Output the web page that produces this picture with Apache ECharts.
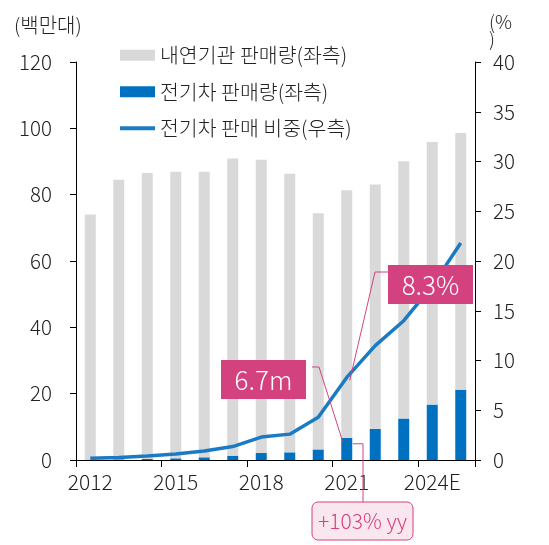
<!DOCTYPE html>
<html>
<head>
<meta charset="utf-8">
<script src="https://cdn.jsdelivr.net/npm/echarts@6/dist/echarts.min.js"></script>
<style>
html,body{margin:0;padding:0;background:#fff;}
#c{width:549px;height:545px;}
</style>
</head>
<body>
<div id="c"></div>
<script>
// ---- data ----
var categories = ['2012','2013','2014','2015','2016','2017','2018','2019','2020','2021','2022','2023','2024E','2025E'];
var iceSales = [73.9, 84.3, 86.2, 86.4, 86.1, 89.6, 88.4, 84.0, 71.2, 74.6, 73.7, 77.6, 79.2, 77.4];
var evSales = [0.1, 0.2, 0.3, 0.5, 0.8, 1.3, 2.1, 2.3, 3.2, 6.7, 9.4, 12.5, 16.7, 21.2];
var evShare = [0.17, 0.25, 0.4, 0.6, 0.9, 1.35, 2.3, 2.6, 4.3, 8.3, 11.5, 14.0, 17.5, 21.8];
var leftTicks = {min: 0, max: 120, interval: 20};
var rightTicks = {min: 0, max: 40, interval: 5};
var seriesNames = ['내연기관 판매량(좌측)', '전기차 판매량(좌측)', '전기차 판매 비중(우측)'];
var leftUnit = '(백만대)';
var rightUnit = '(%\n)';
var noteShare = '8.3%';
var noteSales = '6.7m';
var noteGrowth = '+103% yy';
var noteIndex = 9; // 2021

var FONT = '"Noto Sans CJK KR", "Noto Sans", sans-serif';
var FW = 300;
var PINK = '#d4417f';
var LINEC = '#1a7bc4';
var chart = echarts.init(document.getElementById('c'), null, {renderer: 'canvas'});

var option = {
  animation: false,
  textStyle: {fontFamily: FONT, fontWeight: FW},
  grid: {left: 76, right: 74, top: 62, bottom: 85, containLabel: false},
  legend: {
    orient: 'vertical', left: 118, top: 45, padding: 0,
    itemWidth: 35, itemHeight: 11, itemGap: 16,
    data: [
      {name: seriesNames[0], icon: 'rect'},
      {name: seriesNames[1], icon: 'rect'},
      {name: seriesNames[2], itemStyle: {color: 'rgba(0,0,0,0)', borderWidth: 0}, lineStyle: {width: 4, color: LINEC}}
    ],
    textStyle: {fontSize: 20.5, color: '#222', fontFamily: FONT, fontWeight: FW}
  },
  xAxis: {
    type: 'category', data: categories, boundaryGap: true,
    axisLine: {lineStyle: {color: '#000', width: 1}},
    axisTick: {show: true, interval: 2, length: 7, lineStyle: {color: '#000'}},
    axisLabel: {interval: 2, margin: 12, fontSize: 21, color: '#222', fontFamily: FONT, fontWeight: FW}
  },
  yAxis: [{
    type: 'value', min: leftTicks.min, max: leftTicks.max, interval: leftTicks.interval,
    axisLine: {show: true, lineStyle: {color: '#000'}},
    axisTick: {show: true, length: 6, lineStyle: {color: '#000'}},
    splitLine: {show: false},
    axisLabel: {margin: 24, fontSize: 20.5, color: '#222', fontFamily: FONT, fontWeight: FW}
  }, {
    type: 'value', position: 'right', min: rightTicks.min, max: rightTicks.max, interval: rightTicks.interval,
    axisLine: {show: true, lineStyle: {color: '#000'}},
    axisTick: {show: true, length: 6, lineStyle: {color: '#000'}},
    splitLine: {show: false},
    axisLabel: {margin: 18, fontSize: 20.5, color: '#222', fontFamily: FONT, fontWeight: FW}
  }],
  series: [{
    name: seriesNames[1], type: 'bar', stack: 'total', data: evSales,
    barWidth: 11, itemStyle: {color: '#0070c0'}, z: 2
  }, {
    name: seriesNames[0], type: 'bar', stack: 'total', data: iceSales,
    barWidth: 11, itemStyle: {color: '#d9d9d9'}, z: 2
  }, {
    name: seriesNames[2], type: 'line', yAxisIndex: 1, data: evShare,
    symbol: 'none', lineStyle: {color: LINEC, width: 3.5}, itemStyle: {color: LINEC}, z: 3
  }],
  graphic: [{
    type: 'text', left: 14, top: 15,
    style: {text: leftUnit, fontSize: 20, fill: '#222', fontFamily: FONT, fontWeight: FW}
  }, {
    type: 'text', left: 489, top: 12,
    style: {text: rightUnit, fontSize: 19, lineHeight: 17, fill: '#222', fontFamily: FONT, fontWeight: FW}
  }]
};
chart.setOption(option);

// annotations tied to the 2021 data points
var pShare = chart.convertToPixel({xAxisIndex: 0, yAxisIndex: 1}, [noteIndex, evShare[noteIndex]]);
var pBar = chart.convertToPixel({xAxisIndex: 0, yAxisIndex: 0}, [noteIndex, evSales[noteIndex]]);

var g = option.graphic.slice();
// 8.3% box
g.push({type: 'polyline', z: 50, shape: {points: [[388, 272], [375, 272], [pShare[0] + 3, pShare[1] + 3]]},
  style: {stroke: PINK, lineWidth: 1, fill: null}});
g.push({type: 'rect', z: 60, shape: {x: 388, y: 265, width: 85, height: 39}, style: {fill: PINK}});
g.push({type: 'text', z: 61, x: 430.5, y: 285, style: {text: noteShare, fill: '#fff', fontSize: 26, fontFamily: FONT, fontWeight: FW, align: 'center', verticalAlign: 'middle'}});
// 6.7m box
g.push({type: 'polyline', z: 50, shape: {points: [[312, 367], [319, 367], [pBar[0] - 4, pBar[1] + 4]]},
  style: {stroke: PINK, lineWidth: 1, fill: null}});
g.push({type: 'rect', z: 60, shape: {x: 221, y: 360, width: 85, height: 39}, style: {fill: PINK}});
g.push({type: 'text', z: 61, x: 263.5, y: 380, style: {text: noteSales, fill: '#fff', fontSize: 26, fontFamily: FONT, fontWeight: FW, align: 'center', verticalAlign: 'middle'}});
// +103% yy box
g.push({type: 'polyline', z: 50, shape: {points: [[pBar[0] + 6, pBar[1] + 6], [363, pBar[1] + 6], [363, 502]]},
  style: {stroke: PINK, lineWidth: 1, fill: null}});
g.push({type: 'rect', z: 60, shape: {x: 312, y: 502, width: 101, height: 38, r: 6}, style: {fill: '#f9e6ef', stroke: PINK, lineWidth: 1}});
g.push({type: 'text', z: 61, x: 362.5, y: 521.5, style: {text: noteGrowth, fill: PINK, fontSize: 21, fontFamily: FONT, fontWeight: FW, align: 'center', verticalAlign: 'middle'}});

chart.setOption({graphic: g});
</script>
</body>
</html>
